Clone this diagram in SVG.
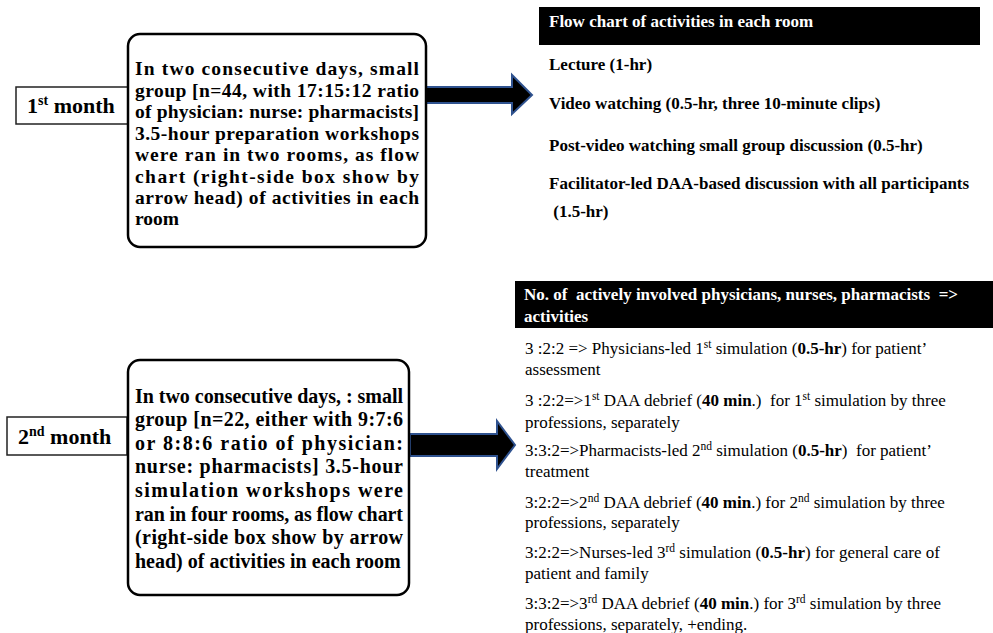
<svg xmlns="http://www.w3.org/2000/svg" width="993" height="633" viewBox="0 0 993 633" font-family="'Liberation Serif', 'DejaVu Serif', serif">
<style>
.bg{fill:#ffffff}
.lbl{fill:#ffffff;stroke:#222;stroke-width:1.5}
.box{fill:#ffffff;stroke:#000;stroke-width:2.5}
.hdr{fill:#000}
.arrow{fill:#000;stroke:#2f528f;stroke-width:2;stroke-linejoin:miter}
text{font-family:'Liberation Serif','DejaVu Serif',serif;fill:#000}
.b1{font-size:19.5px;font-weight:bold}
.b2{font-size:20px;font-weight:bold}
.m{font-size:22px;font-weight:bold}
.msup{font-size:14px}
.h{font-size:17px;font-weight:bold;fill:#fff}
.it{font-size:17px;font-weight:bold}
.r{font-size:17px}
.sup{font-size:11.5px}
</style>
<rect class="bg" x="0" y="0" width="993" height="633"/>

<g id="connectors">
  <path class="arrow" d="M426,87 L512,87 L512,75 L532,95 L512,114 L512,103 L426,103 Z"/>
  <path class="arrow" d="M410,434 L497,434 L497,421 L515,445 L497,469 L497,456 L410,456 Z"/>
</g>

<g id="month1">
  <rect class="lbl" x="16" y="87" width="112" height="37"/>
  <text class="m" x="27" y="113">1<tspan class="msup" dy="-8">st</tspan><tspan dy="8"> month</tspan></text>
</g>

<g id="box1">
  <rect class="box" x="128" y="34" width="298" height="213" rx="12" ry="12"/>
  <text class="b1" x="135" y="75" textLength="284" lengthAdjust="spacing">In two consecutive days, small</text>
  <text class="b1" x="135" y="96.5" textLength="284" lengthAdjust="spacing">group [n=44, with 17:15:12 ratio</text>
  <text class="b1" x="135" y="118" textLength="284" lengthAdjust="spacing">of physician: nurse: pharmacists]</text>
  <text class="b1" x="135" y="139.5" textLength="284" lengthAdjust="spacing">3.5-hour preparation workshops</text>
  <text class="b1" x="135" y="161" textLength="284" lengthAdjust="spacing">were ran in two rooms, as flow</text>
  <text class="b1" x="135" y="182.5" textLength="284" lengthAdjust="spacing">chart (right-side box show by</text>
  <text class="b1" x="135" y="204" textLength="284" lengthAdjust="spacing">arrow head) of activities in each</text>
  <text class="b1" x="135" y="225">room</text>
</g>

<g id="list1">
  <rect class="hdr" x="539" y="7" width="441" height="38"/>
  <text class="h" x="549" y="27">Flow chart of activities in each room</text>
  <text class="it" x="549" y="70">Lecture (1-hr)</text>
  <text class="it" x="549" y="109">Video watching (0.5-hr, three 10-minute clips)</text>
  <text class="it" x="549" y="151">Post-video watching small group discussion (0.5-hr)</text>
  <text class="it" x="549" y="189">Facilitator-led DAA-based discussion with all participants</text>
  <text class="it" x="549" y="217" xml:space="preserve"> (1.5-hr)</text>
</g>

<g id="month2">
  <rect class="lbl" x="7" y="417" width="120" height="38"/>
  <text class="m" x="18" y="444">2<tspan class="msup" dy="-8">nd</tspan><tspan dy="8"> month</tspan></text>
</g>

<g id="box2">
  <rect class="box" x="128" y="360" width="281" height="235" rx="12" ry="12"/>
  <text class="b2" x="135" y="402.5" textLength="268" lengthAdjust="spacing">In two consecutive days, : small</text>
  <text class="b2" x="135" y="426" textLength="268" lengthAdjust="spacing">group [n=22, either with 9:7:6</text>
  <text class="b2" x="135" y="449.5" textLength="268" lengthAdjust="spacing">or 8:8:6 ratio of physician:</text>
  <text class="b2" x="135" y="473" textLength="268" lengthAdjust="spacing">nurse: pharmacists] 3.5-hour</text>
  <text class="b2" x="135" y="497" textLength="268" lengthAdjust="spacing">simulation workshops were</text>
  <text class="b2" x="135" y="520.5" textLength="268" lengthAdjust="spacing">ran in four rooms, as flow chart</text>
  <text class="b2" x="135" y="544" textLength="268" lengthAdjust="spacing">(right-side box show by arrow</text>
  <text class="b2" x="135" y="568">head) of activities in each room</text>
</g>

<g id="list2">
  <rect class="hdr" x="515" y="281" width="478" height="47"/>
  <text class="h" x="524" y="300" xml:space="preserve">No. of  actively involved physicians, nurses, pharmacists  =&gt;</text>
  <text class="h" x="524" y="322">activities</text>

  <text class="r" x="525" y="354">3 :2:2 =&gt; Physicians-led 1<tspan class="sup" dy="-6">st</tspan><tspan dy="6"> simulation (</tspan><tspan font-weight="bold">0.5-hr</tspan>) for patient’</text>
  <text class="r" x="525" y="375">assessment</text>

  <text class="r" x="525" y="406" xml:space="preserve">3 :2:2=&gt;1<tspan class="sup" dy="-6">st</tspan><tspan dy="6"> DAA debrief (</tspan><tspan font-weight="bold">40 min</tspan>.)  for 1<tspan class="sup" dy="-6">st</tspan><tspan dy="6"> simulation by three</tspan></text>
  <text class="r" x="525" y="428">professions, separately</text>

  <text class="r" x="525" y="456" xml:space="preserve">3:3:2=&gt;Pharmacists-led 2<tspan class="sup" dy="-6">nd</tspan><tspan dy="6"> simulation (</tspan><tspan font-weight="bold">0.5-hr</tspan>)  for patient’</text>
  <text class="r" x="525" y="477">treatment</text>

  <text class="r" x="525" y="508">3:2:2=&gt;2<tspan class="sup" dy="-6">nd</tspan><tspan dy="6"> DAA debrief (</tspan><tspan font-weight="bold">40 min</tspan>.) for 2<tspan class="sup" dy="-6">nd</tspan><tspan dy="6"> simulation by three</tspan></text>
  <text class="r" x="525" y="528">professions, separately</text>

  <text class="r" x="525" y="558">3:2:2=&gt;Nurses-led 3<tspan class="sup" dy="-6">rd</tspan><tspan dy="6"> simulation (</tspan><tspan font-weight="bold">0.5-hr</tspan>) for general care of</text>
  <text class="r" x="525" y="579">patient and family</text>

  <text class="r" x="525" y="609">3:3:2=&gt;3<tspan class="sup" dy="-6">rd</tspan><tspan dy="6"> DAA debrief (</tspan><tspan font-weight="bold">40 min</tspan>.) for 3<tspan class="sup" dy="-6">rd</tspan><tspan dy="6"> simulation by three</tspan></text>
  <text class="r" x="525" y="630">professions, separately, +ending.</text>
</g>
</svg>
